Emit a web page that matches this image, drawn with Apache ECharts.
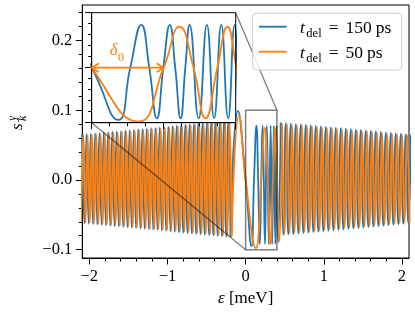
<!DOCTYPE html>
<html><head><meta charset="utf-8">
<script src="https://cdn.jsdelivr.net/npm/echarts@6/dist/echarts.min.js"></script>
<style>html,body{margin:0;padding:0;background:#fff}#c{width:415px;height:314px}</style>
</head><body><div id="c"></div>
<script>
// ---------------- data ----------------
const xRange = [-2.09, 2.09];
const yRange = [-0.112, 0.251];
const xTicks = [-2, -1, 0, 1, 2];
const xMinorTicks = [-1.8,-1.6,-1.4,-1.2,-0.8,-0.6,-0.4,-0.2,0.2,0.4,0.6,0.8,1.2,1.4,1.6,1.8];
const yTicks = [-0.1, 0, 0.1, 0.2];
const yMinorTicks = [-0.08,-0.06,-0.04,-0.02,0.02,0.04,0.06,0.08,0.12,0.14,0.16,0.18,0.22,0.24];
const zoomX = [0, 0.4];
const zoomY = [-0.1, 0.1];
const zoomXTicks = [0, 0.2, 0.4];
const zoomXMinor = [0.05,0.1,0.15,0.25,0.3,0.35];
const zoomYTicks = [-0.1, 0, 0.1];
const zoomYMinor = [-0.08,-0.06,-0.04,-0.02,0.02,0.04,0.06,0.08];
const delta0 = 0.2;
const seriesNames = ['t_del = 150 ps', 't_del = 50 ps'];
const legendNumbers = ['150', '50'];

// t_del = 150 ps : [epsilon (meV), s_k^y] -- dense left part (extrema)
const blueLeft = [
[-2.0900,0.0650],[-2.0625,-0.0623],[-2.0350,0.0656],[-2.0075,-0.0629],[-1.9800,0.0661],[-1.9525,-0.0634],
[-1.9250,0.0667],[-1.8975,-0.0640],[-1.8700,0.0673],[-1.8425,-0.0646],[-1.8150,0.0679],[-1.7875,-0.0651],
[-1.7600,0.0684],[-1.7325,-0.0657],[-1.7050,0.0690],[-1.6775,-0.0663],[-1.6500,0.0696],[-1.6225,-0.0669],
[-1.5950,0.0701],[-1.5675,-0.0674],[-1.5400,0.0707],[-1.5125,-0.0680],[-1.4850,0.0713],[-1.4575,-0.0686],
[-1.4300,0.0719],[-1.4025,-0.0692],[-1.3750,0.0724],[-1.3475,-0.0697],[-1.3200,0.0730],[-1.2925,-0.0703],
[-1.2650,0.0736],[-1.2375,-0.0709],[-1.2100,0.0742],[-1.1825,-0.0714],[-1.1550,0.0747],[-1.1275,-0.0720],
[-1.1000,0.0753],[-1.0725,-0.0726],[-1.0450,0.0759],[-1.0175,-0.0732],[-0.9900,0.0764],[-0.9625,-0.0737],
[-0.9350,0.0770],[-0.9075,-0.0743],[-0.8800,0.0776],[-0.8525,-0.0749],[-0.8250,0.0782],[-0.7975,-0.0754],
[-0.7700,0.0787],[-0.7425,-0.0760],[-0.7150,0.0793],[-0.6875,-0.0766],[-0.6600,0.0799],[-0.6325,-0.0772],
[-0.6050,0.0804],[-0.5775,-0.0777],[-0.5500,0.0810],[-0.5225,-0.0783],[-0.4950,0.0816],[-0.4675,-0.0789],
[-0.4400,0.0822],[-0.4125,-0.0794],[-0.3850,0.0827],[-0.3575,-0.0800],[-0.3300,0.0833],[-0.3025,-0.0806],
[-0.2750,0.0839],[-0.2475,-0.0812],[-0.2200,0.0844],[-0.1925,-0.0817]
];
// central, resolved part (extrema and zero crossings)
const blueCenter = [
[-0.098,0.0990],[0.000,0.0000],[0.074,-0.0950],[0.107,0.0000],[0.138,0.0780],[0.160,0.0000],
[0.181,-0.0920],[0.199,0.0000],[0.217,0.0780],[0.232,0.0000],[0.247,-0.0920],[0.260,0.0000],
[0.272,0.0780],[0.297,-0.0920],[0.320,0.0780],[0.340,-0.0920],[0.360,0.0780],[0.379,-0.0920],
[0.397,0.0780],[0.414,-0.0900]
];
// dense right part (extrema)
const blueRight = [
[0.450,0.0820],[0.482,-0.0787],[0.514,0.0813],[0.546,-0.0780],[0.578,0.0807],[0.610,-0.0774],
[0.642,0.0800],[0.674,-0.0767],[0.706,0.0794],[0.738,-0.0760],[0.770,0.0787],[0.802,-0.0754],
[0.834,0.0780],[0.866,-0.0747],[0.898,0.0774],[0.930,-0.0741],[0.962,0.0767],[0.994,-0.0734],
[1.026,0.0761],[1.058,-0.0727],[1.090,0.0754],[1.122,-0.0721],[1.154,0.0747],[1.186,-0.0714],
[1.218,0.0741],[1.250,-0.0708],[1.282,0.0734],[1.314,-0.0701],[1.346,0.0728],[1.378,-0.0694],
[1.410,0.0721],[1.442,-0.0688],[1.474,0.0714],[1.506,-0.0681],[1.538,0.0708],[1.570,-0.0674],
[1.602,0.0701],[1.634,-0.0668],[1.666,0.0695],[1.698,-0.0661],[1.730,0.0688],[1.762,-0.0655],
[1.794,0.0681],[1.826,-0.0648],[1.858,0.0675],[1.890,-0.0641],[1.922,0.0668],[1.954,-0.0635],
[1.986,0.0662],[2.018,-0.0628],[2.050,0.0655],[2.082,-0.0622],[2.114,0.0648]
];

// t_del = 50 ps -- dense left part (extrema)
const orangeLeft = [
[-2.10375,-0.0605],[-2.07625,0.0638],[-2.04875,-0.0611],[-2.02125,0.0644],[-1.99375,-0.0616],[-1.96625,0.0649],
[-1.93875,-0.0622],[-1.91125,0.0655],[-1.88375,-0.0628],[-1.85625,0.0661],[-1.82875,-0.0634],[-1.80125,0.0666],
[-1.77375,-0.0639],[-1.74625,0.0672],[-1.71875,-0.0645],[-1.69125,0.0678],[-1.66375,-0.0651],[-1.63625,0.0684],
[-1.60875,-0.0656],[-1.58125,0.0689],[-1.55375,-0.0662],[-1.52625,0.0695],[-1.49875,-0.0668],[-1.47125,0.0701],
[-1.44375,-0.0674],[-1.41625,0.0707],[-1.38875,-0.0679],[-1.36125,0.0712],[-1.33375,-0.0685],[-1.30625,0.0718],
[-1.27875,-0.0691],[-1.25125,0.0724],[-1.22375,-0.0697],[-1.19625,0.0729],[-1.16875,-0.0702],[-1.14125,0.0735],
[-1.11375,-0.0708],[-1.08625,0.0741],[-1.05875,-0.0714],[-1.03125,0.0747],[-1.00375,-0.0719],[-0.97625,0.0752],
[-0.94875,-0.0725],[-0.92125,0.0758],[-0.89375,-0.0731],[-0.86625,0.0764],[-0.83875,-0.0737],[-0.81125,0.0769],
[-0.78375,-0.0742],[-0.75625,0.0775],[-0.72875,-0.0748],[-0.70125,0.0781],[-0.67375,-0.0754],[-0.64625,0.0787],
[-0.61875,-0.0759],[-0.59125,0.0792],[-0.56375,-0.0765],[-0.53625,0.0798],[-0.50875,-0.0771],[-0.48125,0.0804],
[-0.45375,-0.0777],[-0.42625,0.0809],[-0.39875,-0.0782],[-0.37125,0.0815],[-0.34375,-0.0788],[-0.31625,0.0821],
[-0.28875,-0.0794],[-0.26125,0.0827],[-0.23375,-0.0799],[-0.20625,0.0832],[-0.17875,-0.0805]
];
const orangeCenter = [
[-0.0850,0.0930],[0.0000,0.0000],[0.1300,-0.0980],[0.2000,0.0000],[0.2440,0.0745],[0.2830,0.0000],
[0.3160,-0.0920],[0.3490,0.0000],[0.3770,0.0745],[0.4020,0.0000],[0.4300,-0.0880]
];
const orangeRight = [
[0.466,0.0803],[0.498,-0.0770],[0.530,0.0796],[0.562,-0.0763],[0.594,0.0790],[0.626,-0.0757],
[0.658,0.0783],[0.690,-0.0750],[0.722,0.0777],[0.754,-0.0743],[0.786,0.0770],[0.818,-0.0737],
[0.850,0.0763],[0.882,-0.0730],[0.914,0.0757],[0.946,-0.0724],[0.978,0.0750],[1.010,-0.0717],
[1.042,0.0744],[1.074,-0.0710],[1.106,0.0737],[1.138,-0.0704],[1.170,0.0730],[1.202,-0.0697],
[1.234,0.0724],[1.266,-0.0691],[1.298,0.0717],[1.330,-0.0684],[1.362,0.0711],[1.394,-0.0677],
[1.426,0.0704],[1.458,-0.0671],[1.490,0.0697],[1.522,-0.0664],[1.554,0.0691],[1.586,-0.0658],
[1.618,0.0684],[1.650,-0.0651],[1.682,0.0678],[1.714,-0.0644],[1.746,0.0671],[1.778,-0.0638],
[1.810,0.0664],[1.842,-0.0631],[1.874,0.0658],[1.906,-0.0625],[1.938,0.0651],[1.970,-0.0618],
[2.002,0.0645],[2.034,-0.0611],[2.066,0.0638],[2.098,-0.0605]
];

// ---------------- styling ----------------
const FONT = '"Liberation Serif", "Times New Roman", serif';
const BLUE = '#1f77b4', ORANGE = '#ff7f0e';
const LBL = 16.5;
const minusFmt = (v, d) => (v < -1e-9 ? '\u2212' : '') + Math.abs(v).toFixed(d);

function axis(kind, gridIndex, range, ticks, minor, showLabels, digits, z, extra) {
  return Object.assign({
    type: 'value', gridIndex, min: range[0], max: range[1],
    position: kind === 'x' ? 'bottom' : 'left', z,
    axisLine: { show: !minor, onZero: false, lineStyle: { color: '#000', width: 1 } },
    axisTick: { show: true, inside: false, length: minor ? 3.5 : 6.5, customValues: ticks,
                lineStyle: { color: '#000', width: 1 } },
    axisLabel: { show: showLabels, customValues: ticks, margin: 10, color: '#000',
                 fontFamily: FONT, fontSize: LBL, hideOverlap: false,
                 formatter: v => minusFmt(v, digits) },
    splitLine: { show: false }, minorTick: { show: false }, minorSplitLine: { show: false },
    splitArea: { show: false }
  }, extra || {});
}

const chart = echarts.init(document.getElementById('c'));
const lineSeries = (name, data, color, width, xi, yi, z) => ({
  type: 'line', name, data, xAxisIndex: xi, yAxisIndex: yi, z,
  showSymbol: false, symbol: 'none', smooth: 0.5, clip: true, animation: false,
  lineStyle: { color, width }, emphasis: { disabled: true }
});
const last = a => a[a.length - 1];
const blueMid = [last(blueLeft)].concat(blueCenter, [blueRight[0]]);
const orangeMid = [last(orangeLeft)].concat(orangeCenter, [orangeRight[0]]);

chart.setOption({
  animation: false,
  backgroundColor: '#ffffff',
  grid: [
    { left: 82.3, top: 5, width: 326.7, height: 253, show: true, borderColor: '#000', borderWidth: 1,
      backgroundColor: 'rgba(0,0,0,0)', containLabel: false, outerBoundsMode: 'none' },
    { left: 91.7, top: 12.7, width: 144, height: 110, show: false, containLabel: false, outerBoundsMode: 'none' }
  ],
  xAxis: [
    axis('x', 0, xRange, xTicks, false, true, 0, 1, {
      name: '{i|\u03b5} [meV]', nameLocation: 'middle', nameGap: 31,
      nameTextStyle: { color: '#000', fontFamily: FONT, fontSize: 17,
        rich: { i: { fontStyle: 'italic', fontFamily: FONT, fontSize: 17, color: '#000' } } }
    }),
    axis('x', 0, xRange, xMinorTicks, true, false, 0, 1),
    axis('x', 1, zoomX, zoomXTicks, false, false, 2, 6),
    axis('x', 1, zoomX, zoomXMinor, true, false, 2, 6)
  ],
  yAxis: [
    axis('y', 0, yRange, yTicks, false, true, 1, 1),
    axis('y', 0, yRange, yMinorTicks, true, false, 1, 1),
    axis('y', 1, zoomY, zoomYTicks, false, false, 2, 6),
    axis('y', 1, zoomY, zoomYMinor, true, false, 2, 6)
  ],
  series: [
    lineSeries(seriesNames[0], blueLeft, BLUE, 2.0, 0, 0, 2),
    lineSeries(seriesNames[0], blueRight, BLUE, 2.0, 0, 0, 2),
    lineSeries(seriesNames[0], blueMid, BLUE, 1.8, 0, 0, 2),
    lineSeries(seriesNames[1], orangeLeft, ORANGE, 1.9, 0, 0, 2),
    lineSeries(seriesNames[1], orangeRight, ORANGE, 1.9, 0, 0, 2),
    lineSeries(seriesNames[1], orangeMid, ORANGE, 1.8, 0, 0, 2),
    lineSeries(seriesNames[0] + ' (zoom)', blueMid, BLUE, 1.8, 2, 2, 6),
    lineSeries(seriesNames[1] + ' (zoom)', orangeMid, ORANGE, 1.8, 2, 2, 6)
  ]
});

// ---------------- annotations ----------------
const P = (main, v) => chart.convertToPixel(main ? { xAxisIndex: 0, yAxisIndex: 0 } : { xAxisIndex: 2, yAxisIndex: 2 }, v);
const b0 = P(true, [zoomX[0], zoomY[1]]), b1 = P(true, [zoomX[1], zoomY[0]]);
const i0 = P(false, [zoomX[0], zoomY[1]]), i1 = P(false, [zoomX[1], zoomY[0]]);
const a0 = P(false, [0, 0]), a1 = P(false, [delta0, 0]);
const gTL = P(true, [xRange[0], yRange[1]]), gBR = P(true, [xRange[1], yRange[0]]);

const mctx = document.createElement('canvas').getContext('2d');
function tw(t, size, italic) { mctx.font = (italic ? 'italic ' : '') + size + 'px ' + FONT; return mctx.measureText(t).width; }
const MID = 0.338;
function txt(t, x, baseline, size, italic, color, z) {
  return { type: 'text', x, y: baseline - MID * size, z, silent: true,
    style: { text: t, fill: color || '#000', fontSize: size, fontFamily: FONT,
             fontStyle: italic ? 'italic' : 'normal', align: 'left', verticalAlign: 'middle' } };
}

const els = [];
const gray = 'rgba(0,0,0,0.5)';
els.push({ type: 'rect', z: 3, silent: true, shape: { x: b0[0], y: b0[1], width: b1[0] - b0[0], height: b1[1] - b0[1] },
  style: { fill: null, stroke: gray, lineWidth: 1.5 } });
els.push({ type: 'line', z: 3, silent: true, shape: { x1: i0[0], y1: i1[1], x2: b0[0], y2: b1[1] }, style: { stroke: gray, lineWidth: 1.3 } });
els.push({ type: 'line', z: 3, silent: true, shape: { x1: i1[0], y1: i0[1], x2: b1[0], y2: b0[1] }, style: { stroke: gray, lineWidth: 1.3 } });
els.push({ type: 'rect', z: 4, silent: true, shape: { x: i0[0], y: i0[1], width: i1[0] - i0[0], height: i1[1] - i0[1] },
  style: { fill: '#fff', stroke: null } });
els.push({ type: 'rect', z: 8, silent: true, shape: { x: i0[0], y: i0[1], width: i1[0] - i0[0], height: i1[1] - i0[1] },
  style: { fill: null, stroke: '#000', lineWidth: 1 } });
els.push({ type: 'line', z: 9, silent: true, shape: { x1: a0[0], y1: a0[1], x2: a1[0], y2: a1[1] }, style: { stroke: ORANGE, lineWidth: 1.8 } });
els.push({ type: 'polyline', z: 9, silent: true, shape: { points: [[a0[0] + 7, a0[1] - 4.5], [a0[0] + 0.5, a0[1]], [a0[0] + 7, a0[1] + 4.5]] },
  style: { stroke: ORANGE, lineWidth: 1.8, fill: null } });
els.push({ type: 'polyline', z: 9, silent: true, shape: { points: [[a1[0] - 7, a1[1] - 4.5], [a1[0] - 0.5, a1[1]], [a1[0] - 7, a1[1] + 4.5]] },
  style: { stroke: ORANGE, lineWidth: 1.8, fill: null } });
const dx = a0[0] + 18;
els.push(txt('\u03b4', dx, a0[1] - 11, 17, true, ORANGE, 9));
els.push(txt('0', dx + tw('\u03b4', 17, true) + 0.5, a0[1] - 6, 12, false, ORANGE, 9));

const lx = gBR[0] - 7.3 - 149, ly = gTL[1] + 8.3;
els.push({ type: 'rect', z: 10, silent: true, shape: { x: lx, y: ly, width: 149, height: 56.7, r: 4 },
  style: { fill: 'rgba(255,255,255,0.8)', stroke: '#cccccc', lineWidth: 1 } });
[BLUE, ORANGE].forEach((c, k) => {
  const ry = ly + 13.4 + 25 * k;
  els.push({ type: 'line', z: 11, silent: true, shape: { x1: lx + 6.3, y1: ry, x2: lx + 34, y2: ry }, style: { stroke: c, lineWidth: 1.8 } });
  const base = ry + 7.6, fs = 17.5;
  let x = lx + 47.3;
  els.push(txt('t', x, base, fs, true, '#000', 11)); x += tw('t', fs, true) + 1.5;
  els.push(txt('del', x, base + 4, 12.5, false, '#000', 11)); x += tw('del', 12.5, false) + 7;
  els.push(txt('=', x, base, fs, false, '#000', 11)); x += tw('=', fs, false) + 7;
  els.push(txt(legendNumbers[k], x, base, fs, false, '#000', 11)); x += tw(legendNumbers[k], fs, false) + 4;
  els.push(txt('ps', x, base, fs, false, '#000', 11));
});

els.push({ type: 'group', x: 23, y: 130, rotation: Math.PI / 2, z: 11, silent: true, children: [
  txt('s', 0, 0, 17, true, '#000', 11),
  txt('y', 9, -6, 12, true, '#000', 11),
  txt('k', 9, 4, 12, true, '#000', 11)
] });

chart.setOption({ graphic: { elements: els } });
</script></body></html>
